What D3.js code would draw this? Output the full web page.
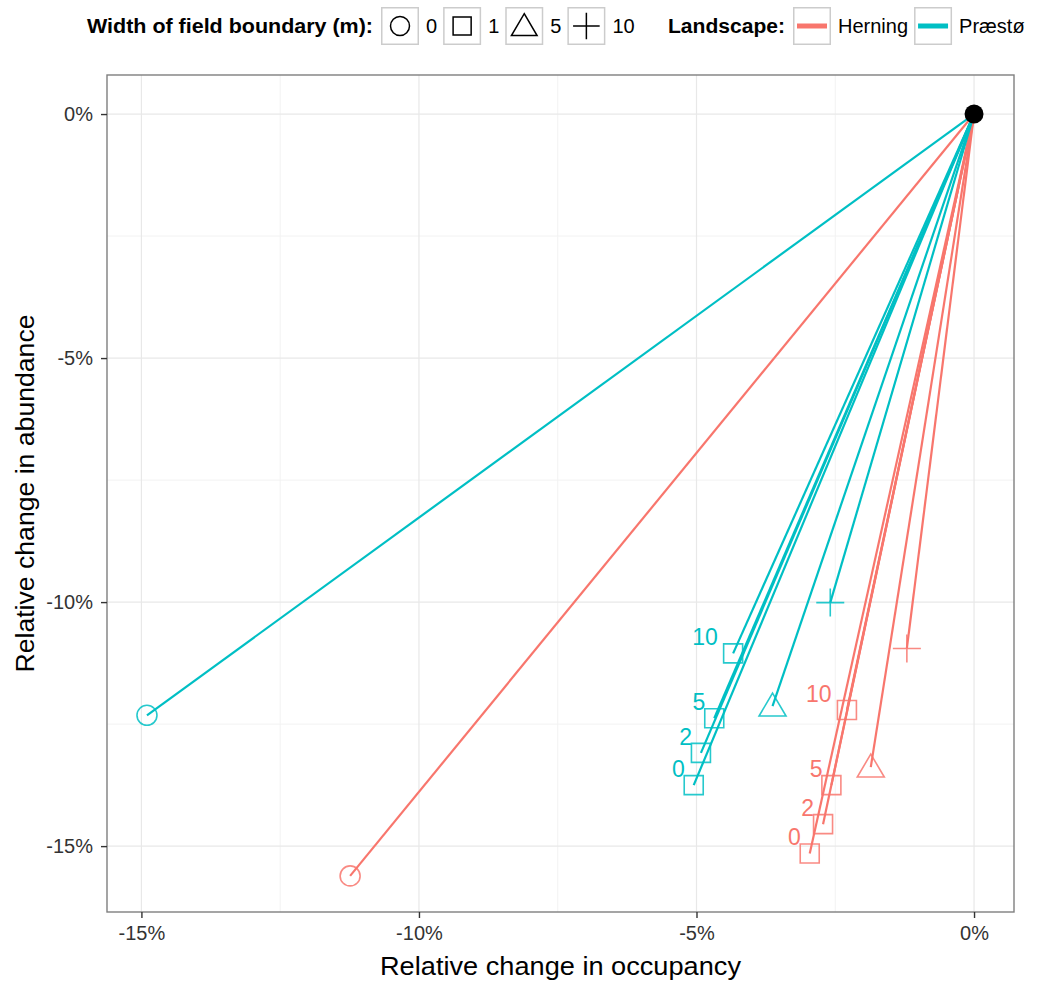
<!DOCTYPE html>
<html>
<head>
<meta charset="utf-8">
<script src="https://cdn.jsdelivr.net/npm/d3@7"></script>
<style>
  body { margin: 0; background: #fff; }
  text { font-family: "Liberation Sans", Arial, sans-serif; }
</style>
</head>
<body>
<div id="chart"></div>
<script>
// Dados (percentuais)
const landscapes = ["Herning", "Præstø"];
const landscapeColors = ["#F8766D", "#00BFC4"];
const boundaryWidths = [0, 1, 5, 10];
const scenarioWidth = [0, 1, 1, 1, 1, 5, 10];
const scenarioLabel = ["", "0", "2", "5", "10", "", ""];
const herningOccupancy = [-11.24, -2.96, -2.72, -2.57, -2.29, -1.86, -1.21];
const herningAbundance = [-15.61, -15.15, -14.55, -13.75, -12.21, -13.38, -10.95];
const praestoOccupancy = [-14.90, -5.05, -4.92, -4.68, -4.34, -3.63, -2.59];
const praestoAbundance = [-12.32, -13.75, -13.09, -12.38, -11.05, -12.13, -10.01];
const xTicks = [-15, -10, -5, 0];
const yTicks = [0, -5, -10, -15];
const minorTicks = [-12.5, -7.5, -2.5];

const W = 1037, H = 981;
const panel = { left: 107, right: 1014, top: 75, bottom: 912 };

const svg = d3.select("#chart").append("svg")
  .attr("width", W).attr("height", H);

const x = d3.scaleLinear().domain([-15.62, 0.72]).range([panel.left, panel.right]);
const y = d3.scaleLinear().domain([0.8, -16.35]).range([panel.top, panel.bottom]);

// Formas dos marcadores
function shapePath(width, s) {
  if (width === 0) {
    const r = 10 * s;
    return `M${r},0A${r},${r},0,1,1,${-r},0A${r},${r},0,1,1,${r},0Z`;
  }
  if (width === 1) { const h = 9.5 * s; return `M${-h},${-h}H${h}V${h}H${-h}Z`; }
  if (width === 5) return `M0,${-13 * s}L${13.5 * s},${10 * s}L${-13.5 * s},${10 * s}Z`;
  const a = 14 * s;
  return `M${-a},0H${a}M0,${-a}V${a}`;
}

// Grade
const g = svg.append("g");
g.selectAll(".minor-x").data(minorTicks).enter().append("line")
  .attr("x1", d => x(d)).attr("x2", d => x(d))
  .attr("y1", panel.top).attr("y2", panel.bottom)
  .attr("stroke", "#f2f2f2").attr("stroke-width", 1);
g.selectAll(".minor-y").data(minorTicks).enter().append("line")
  .attr("y1", d => y(d)).attr("y2", d => y(d))
  .attr("x1", panel.left).attr("x2", panel.right)
  .attr("stroke", "#f2f2f2").attr("stroke-width", 1);
g.selectAll(".major-x").data(xTicks).enter().append("line")
  .attr("x1", d => x(d)).attr("x2", d => x(d))
  .attr("y1", panel.top).attr("y2", panel.bottom)
  .attr("stroke", "#e8e8e8").attr("stroke-width", 1.2);
g.selectAll(".major-y").data(yTicks).enter().append("line")
  .attr("y1", d => y(d)).attr("y2", d => y(d))
  .attr("x1", panel.left).attr("x2", panel.right)
  .attr("stroke", "#e8e8e8").attr("stroke-width", 1.2);

// Dados por paisagem
const series = [
  { name: landscapes[0], color: landscapeColors[0], occ: herningOccupancy, abu: herningAbundance },
  { name: landscapes[1], color: landscapeColors[1], occ: praestoOccupancy, abu: praestoAbundance },
];
const points = [];
series.forEach(s => s.occ.forEach((v, i) => points.push({
  landscape: s.name, color: s.color, occ: v, abu: s.abu[i],
  width: scenarioWidth[i], label: scenarioLabel[i]
})));

// Segmentos a partir da origem
svg.append("g").selectAll("line").data(points).enter().append("line")
  .attr("x1", x(0)).attr("y1", y(0))
  .attr("x2", d => x(d.occ)).attr("y2", d => y(d.abu))
  .attr("stroke", d => d.color).attr("stroke-width", 2.2);

// Marcadores
svg.append("g").selectAll("path").data(points).enter().append("path")
  .attr("d", d => shapePath(d.width, 1))
  .attr("transform", d => `translate(${x(d.occ)},${y(d.abu)})`)
  .attr("fill", "none").attr("stroke", d => d.color)
  .attr("stroke-width", 1.6).attr("opacity", 0.85);

// Rótulos dos quadrados
svg.append("g").selectAll("text").data(points.filter(d => d.label)).enter().append("text")
  .attr("font-size", 23).attr("fill", d => d.color)
  .attr("y", d => y(d.abu) - 8)
  .text(d => d.label)
  .each(function (d) {
    const w = this.getComputedTextLength();
    d3.select(this).attr("x", x(d.occ) - 2.5 - 1.5 * w);
  });

// Origem
svg.append("circle").attr("cx", x(0)).attr("cy", y(0)).attr("r", 9.5).attr("fill", "#000");

// Borda do painel
svg.append("rect")
  .attr("x", panel.left).attr("y", panel.top)
  .attr("width", panel.right - panel.left).attr("height", panel.bottom - panel.top)
  .attr("fill", "none").attr("stroke", "#7f7f7f").attr("stroke-width", 1.4);

// Eixos
svg.append("g")
  .attr("transform", `translate(0,${panel.bottom})`)
  .call(d3.axisBottom(x).tickValues(xTicks).tickFormat(d => d + "%").tickSize(6).tickPadding(8))
  .call(a => a.select(".domain").remove())
  .call(a => a.selectAll(".tick line").attr("stroke", "#333").attr("stroke-width", 1.4))
  .call(a => a.selectAll("text").attr("font-size", 20).attr("fill", "#333")
    .attr("font-family", "Liberation Sans, Arial, sans-serif"));

svg.append("g")
  .attr("transform", `translate(${panel.left},0)`)
  .call(d3.axisLeft(y).tickValues(yTicks).tickFormat(d => d + "%").tickSize(6).tickPadding(8))
  .call(a => a.select(".domain").remove())
  .call(a => a.selectAll(".tick line").attr("stroke", "#333").attr("stroke-width", 1.4))
  .call(a => a.selectAll("text").attr("font-size", 20).attr("fill", "#333")
    .attr("font-family", "Liberation Sans, Arial, sans-serif"));

// Títulos dos eixos
svg.append("text")
  .attr("x", (panel.left + panel.right) / 2).attr("y", 975)
  .attr("text-anchor", "middle").attr("font-size", 26)
  .attr("textLength", 361).attr("lengthAdjust", "spacingAndGlyphs")
  .text("Relative change in occupancy");
svg.append("text")
  .attr("transform", `translate(34,${(panel.top + panel.bottom) / 2}) rotate(-90)`)
  .attr("text-anchor", "middle").attr("font-size", 26)
  .attr("textLength", 358).attr("lengthAdjust", "spacingAndGlyphs")
  .text("Relative change in abundance");

// Legenda
const leg = svg.append("g");
const keySize = 38, keyTop = 7, baseY = 33;
let cx = 87;

function legendTitle(txt, len) {
  leg.append("text").attr("x", cx).attr("y", baseY)
    .attr("font-size", 20).attr("font-weight", "bold")
    .attr("textLength", len).attr("lengthAdjust", "spacingAndGlyphs")
    .text(txt);
  cx += len + 8;
}
function legendKey(draw, label) {
  const k = leg.append("g").attr("transform", `translate(${cx},${keyTop})`);
  k.append("rect").attr("x", 0.75).attr("y", 0.75)
    .attr("width", keySize - 1.5).attr("height", keySize - 1.5)
    .attr("fill", "#fff").attr("stroke", "#cccccc").attr("stroke-width", 1.5);
  draw(k.append("g").attr("transform", `translate(${keySize / 2},${keySize / 2})`));
  cx += keySize + 7;
  const t = leg.append("text").attr("x", cx).attr("y", baseY)
    .attr("font-size", 20).text(label);
  cx += t.node().getComputedTextLength() + 6;
}

legendTitle("Width of field boundary (m):", 286);
boundaryWidths.forEach(w => legendKey(k => k.append("path")
  .attr("d", shapePath(w, 0.95)).attr("fill", "none")
  .attr("stroke", "#000").attr("stroke-width", 1.5), String(w)));

cx = 668;
legendTitle("Landscape:", 117);
landscapes.forEach((l, i) => legendKey(k => k.append("line")
  .attr("x1", -15).attr("x2", 15)
  .attr("stroke", landscapeColors[i]).attr("stroke-width", 5), l));
</script>
</body>
</html>
